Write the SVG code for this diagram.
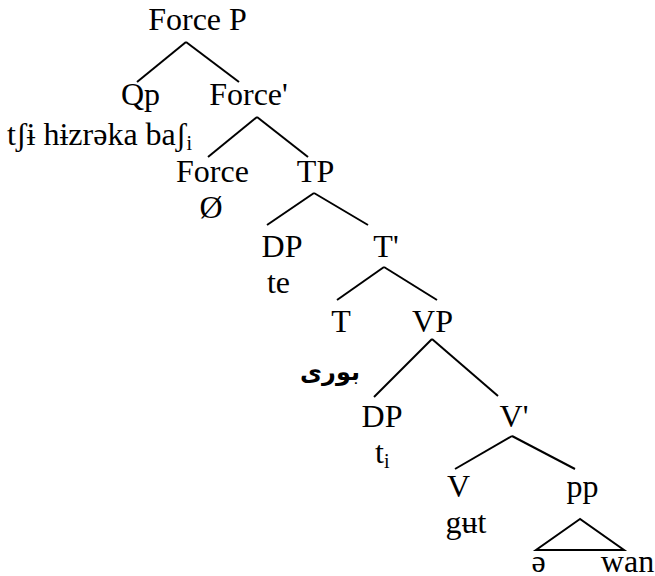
<svg xmlns="http://www.w3.org/2000/svg" width="655" height="576" viewBox="0 0 655 576" font-family="Liberation Serif, DejaVu Serif, serif" font-size="32">
<rect width="655" height="576" fill="#fff"/>
<g id="edges" stroke="#000" stroke-width="2" fill="none">
<line x1="186" y1="42" x2="137" y2="82"/><line x1="186" y1="42" x2="239" y2="82"/>
<line x1="257" y1="117" x2="208" y2="157"/><line x1="257" y1="117" x2="308" y2="157"/>
<line x1="314" y1="193" x2="267" y2="225"/><line x1="314" y1="193" x2="368" y2="225"/>
<line x1="384" y1="267" x2="337" y2="300"/><line x1="384" y1="267" x2="437" y2="300"/>
<line x1="432" y1="339" x2="374" y2="397"/><line x1="432" y1="339" x2="498" y2="396"/>
<line x1="512" y1="436" x2="455" y2="469"/><line x1="512" y1="436" x2="575" y2="469"/>
<polygon points="580,519 536,550 624,550"/>
</g>
<g id="forceP"><text text-anchor="middle" x="197.5" y="30">Force P</text></g>
<g id="qp"><text text-anchor="middle" x="140.5" y="105">Qp</text><text x="7" y="145">tʃɨ hɨzrəka baʃ<tspan font-size="20" dy="5">i</tspan></text></g>
<g id="forceBar"><text text-anchor="middle" x="248.5" y="105">Force'</text></g>
<g id="force"><text text-anchor="middle" x="212.5" y="182">Force</text><text text-anchor="middle" x="211" y="218">Ø</text></g>
<g id="tp"><text text-anchor="middle" x="315.5" y="182">TP</text></g>
<g id="dp1"><text text-anchor="middle" x="282" y="257">DP</text><text text-anchor="middle" x="278.5" y="293">te</text></g>
<g id="tBar"><text text-anchor="middle" x="386" y="257">T'</text></g>
<g id="t"><text text-anchor="middle" x="341" y="332">T</text><text font-family="DejaVu Sans, sans-serif" font-weight="bold" font-size="24" text-anchor="middle" x="330" y="380" direction="rtl">بوری</text></g>
<g id="vp"><text text-anchor="middle" x="432.5" y="332">VP</text></g>
<g id="dp2"><text text-anchor="middle" x="382" y="427">DP</text><text x="375" y="463">t<tspan font-size="20" dy="5">i</tspan></text></g>
<g id="vBar"><text text-anchor="middle" x="514" y="427">V'</text></g>
<g id="v"><text text-anchor="middle" x="458.5" y="497">V</text><text text-anchor="middle" x="466" y="533">gʉt</text></g>
<g id="pp"><text text-anchor="middle" x="582.5" y="497">pp</text><text text-anchor="middle" x="538.5" y="572">ə</text><text text-anchor="middle" x="627.5" y="572">wan</text></g>
</svg>
